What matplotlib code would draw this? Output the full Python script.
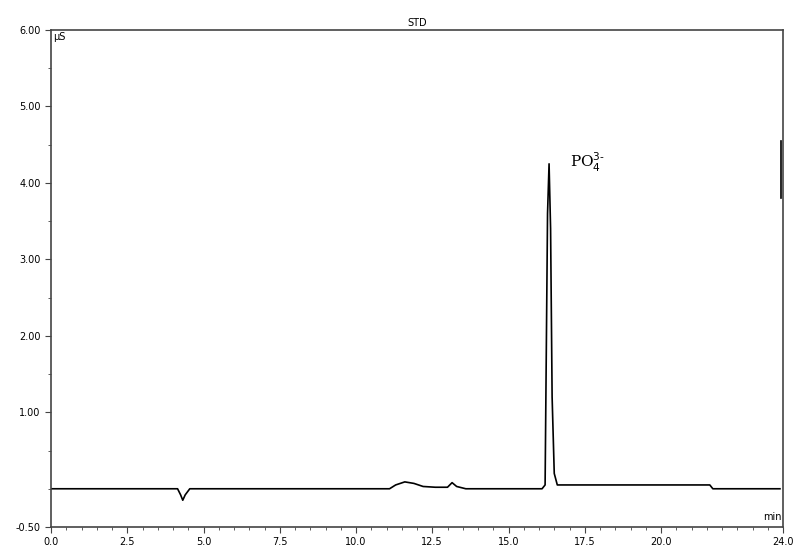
import matplotlib.pyplot as plt
import numpy as np

# retention time (min) and conductivity (uS)
time = [0.0, 4.15, 4.25, 4.32, 4.4, 4.55, 11.1, 11.3, 11.6, 11.9, 12.2, 12.6, 13.0,
        13.15, 13.3, 13.6, 16.1, 16.2, 16.28, 16.33, 16.38, 16.43, 16.5, 16.6, 16.7,
        21.6, 21.7, 23.9]
signal = [0.0, 0.0, -0.08, -0.15, -0.08, 0.0, 0.0, 0.05, 0.09, 0.07, 0.03, 0.02, 0.02,
          0.08, 0.03, 0.0, 0.0, 0.05, 3.6, 4.25, 3.4, 1.2, 0.2, 0.05, 0.05,
          0.05, 0.0, 0.0]
end_time = [23.92, 23.92]
end_signal = [3.8, 4.55]

y_ticks = [-0.5, 1.0, 2.0, 3.0, 4.0, 5.0, 6.0]
x_ticks = [0.0, 2.5, 5.0, 7.5, 10.0, 12.5, 15.0, 17.5, 20.0, 24.0]

fig = plt.figure(figsize=(8, 5.54), dpi=100)
ax = fig.add_axes([51 / 800, 1 - 527 / 554, 732 / 800, 497 / 554])
ax.plot(time, signal, color="black", lw=1.2)
ax.plot(end_time, end_signal, color="black", lw=1.2)

ax.set_xlim(0, 24)
ax.set_ylim(-0.5, 6.0)
ax.set_xticks(x_ticks)
ax.set_xticklabels([f"{v:.1f}" for v in x_ticks], fontsize=7)
ax.set_xticks(np.arange(0, 24.01, 0.5), minor=True)
ax.set_yticks(y_ticks)
ax.set_yticklabels([f"{v:.2f}" for v in y_ticks], fontsize=7)
ax.set_yticks(np.arange(-0.5, 6.01, 0.5), minor=True)
ax.tick_params(which="both", direction="out", color="#444444")
ax.tick_params(which="major", length=4)
ax.tick_params(which="minor", length=2)
for s in ax.spines.values():
    s.set_color("#444444")
    s.set_linewidth(1.2)

ax.set_title("STD", fontsize=7, pad=3)
ax.text(0.003, 0.995, "µS", transform=ax.transAxes, fontsize=7, va="top", ha="left")
ax.text(0.998, 0.01, "min", transform=ax.transAxes, fontsize=7, va="bottom", ha="right")
ax.text(17.0, 4.2, r"PO$_4^{3\text{-}}$", fontsize=11, family="DejaVu Serif")

fig.savefig("out.png", dpi=100)
